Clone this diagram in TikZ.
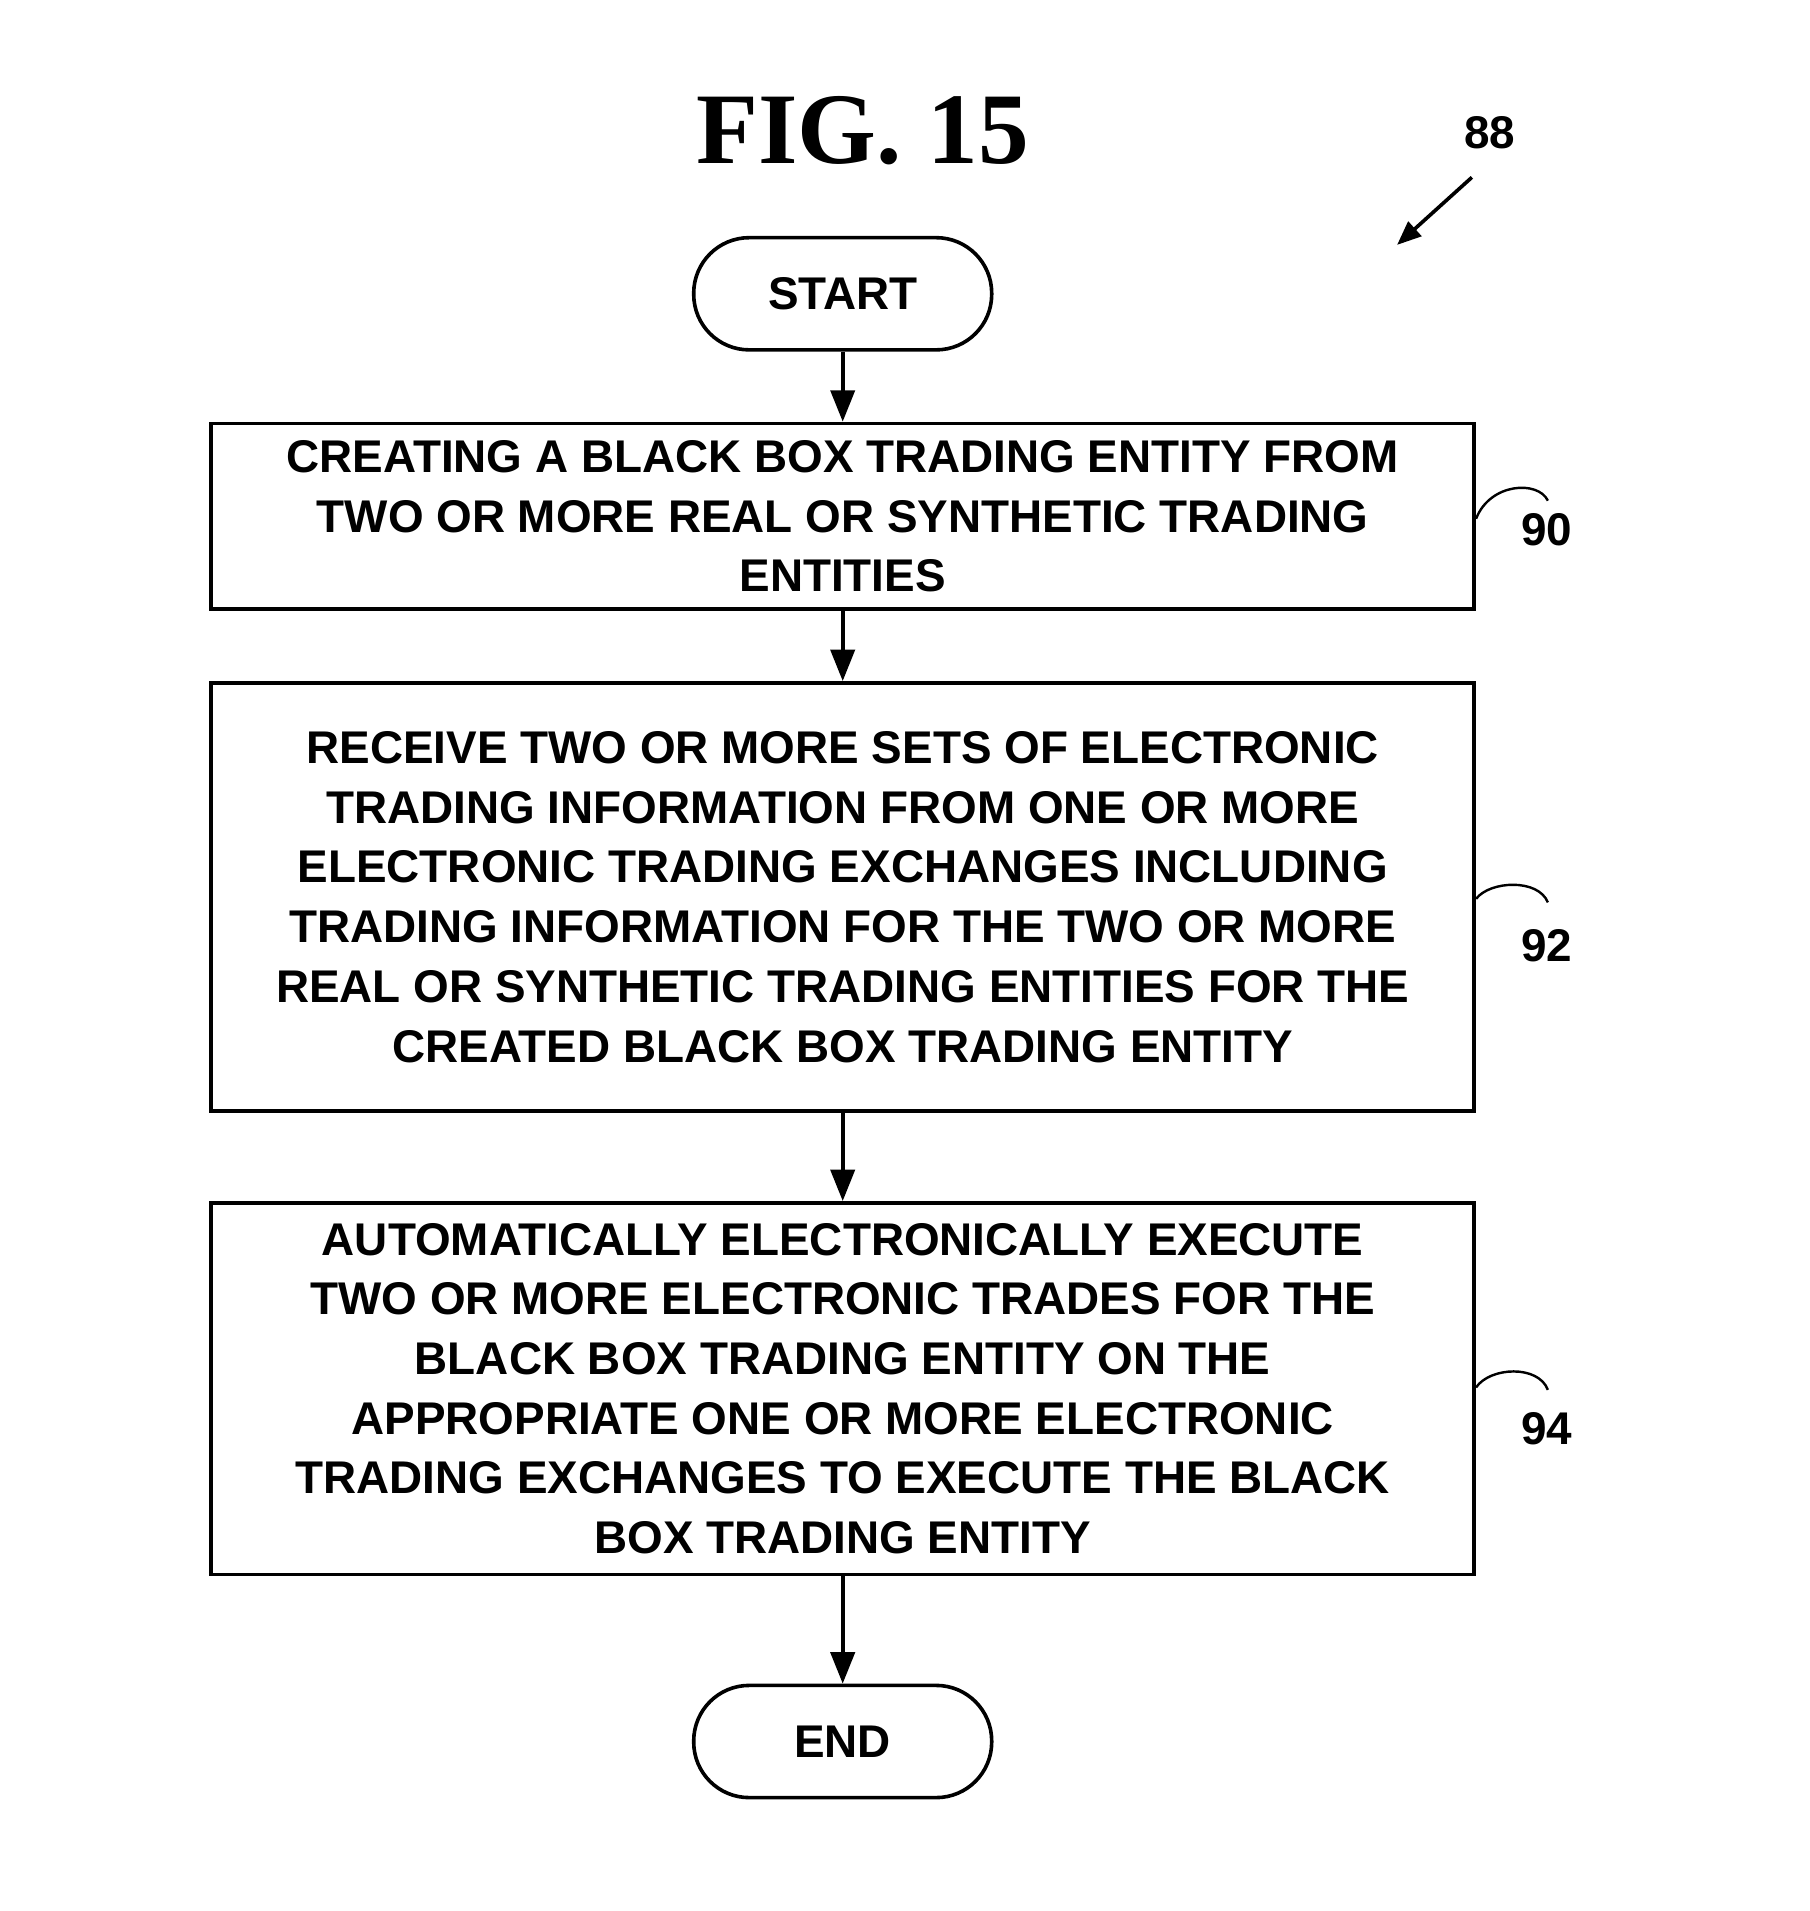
\documentclass[tikz,border=0pt]{standalone}
\usetikzlibrary{arrows.meta}
\usepackage{fontspec}
\setmainfont{Liberation Sans}
\newfontfamily\titlefont{Liberation Serif}
\begin{document}
\begin{tikzpicture}[x=1pt,y=-1pt,line width=3pt,
  box/.style={draw,rectangle,minimum width=1047pt,align=center,font=\fontsize{38}{49.5}\selectfont\bfseries,inner sep=0pt},
  term/.style={draw,rounded corners=46pt,minimum width=247pt,minimum height=93pt,font=\fontsize{38}{46}\selectfont\bfseries,inner sep=0pt},
  arr/.style={-{Triangle[length=26pt,width=20pt]},line width=3pt},
  lbl/.style={font=\fontsize{38}{46}\selectfont\bfseries},
  hook/.style={line width=2pt}]
\useasboundingbox (0,0) rectangle (1500,1584);
\node[font=\fontsize{84}{90}\selectfont\bfseries\titlefont] (title) at (715,108) {FIG. 15};
\node[lbl] (n88) at (1235,110) {88};
\coordinate (a88) at (1220,147);
\coordinate (b88) at (1158,203);
\draw[-{Triangle[length=20pt,width=16pt]},line width=3pt] (a88) -- (b88);
\node[term] (start) at (698.5,243.5) {START};
\node[box,minimum height=154pt] (b90) at (698.5,428) {CREATING A BLACK BOX TRADING ENTITY FROM\\TWO OR MORE REAL OR SYNTHETIC TRADING\\ENTITIES};
\node[box,minimum height=355pt] (b92) at (698.5,743.5) {RECEIVE TWO OR MORE SETS OF ELECTRONIC\\TRADING INFORMATION FROM ONE OR MORE\\ELECTRONIC TRADING EXCHANGES INCLUDING\\TRADING INFORMATION FOR THE TWO OR MORE\\REAL OR SYNTHETIC TRADING ENTITIES FOR THE\\CREATED BLACK BOX TRADING ENTITY};
\node[box,minimum height=308pt] (b94) at (698.5,1151) {AUTOMATICALLY ELECTRONICALLY EXECUTE\\TWO OR MORE ELECTRONIC TRADES FOR THE\\BLACK BOX TRADING ENTITY ON THE\\APPROPRIATE ONE OR MORE ELECTRONIC\\TRADING EXCHANGES TO EXECUTE THE BLACK\\BOX TRADING ENTITY};
\node[term] (end) at (698.5,1443.5) {END};
\draw[arr] (start) -- (b90);
\draw[arr] (b90) -- (b92);
\draw[arr] (b92) -- (b94);
\draw[arr] (b94) -- (end);
\node[lbl] (n90) at (1282,439) {90};
\node[lbl] (n92) at (1282,784) {92};
\node[lbl] (n94) at (1282,1184) {94};
\draw[hook] (b90.east |- 0,430) .. controls (1235,400) and (1275,398) .. (1283,415);
\draw[hook] (b92.east |- 0,745) .. controls (1235,730) and (1275,728) .. (1283,748);
\draw[hook] (b94.east |- 0,1150) .. controls (1235,1133) and (1275,1131) .. (1283,1152);
\end{tikzpicture}
\end{document}
